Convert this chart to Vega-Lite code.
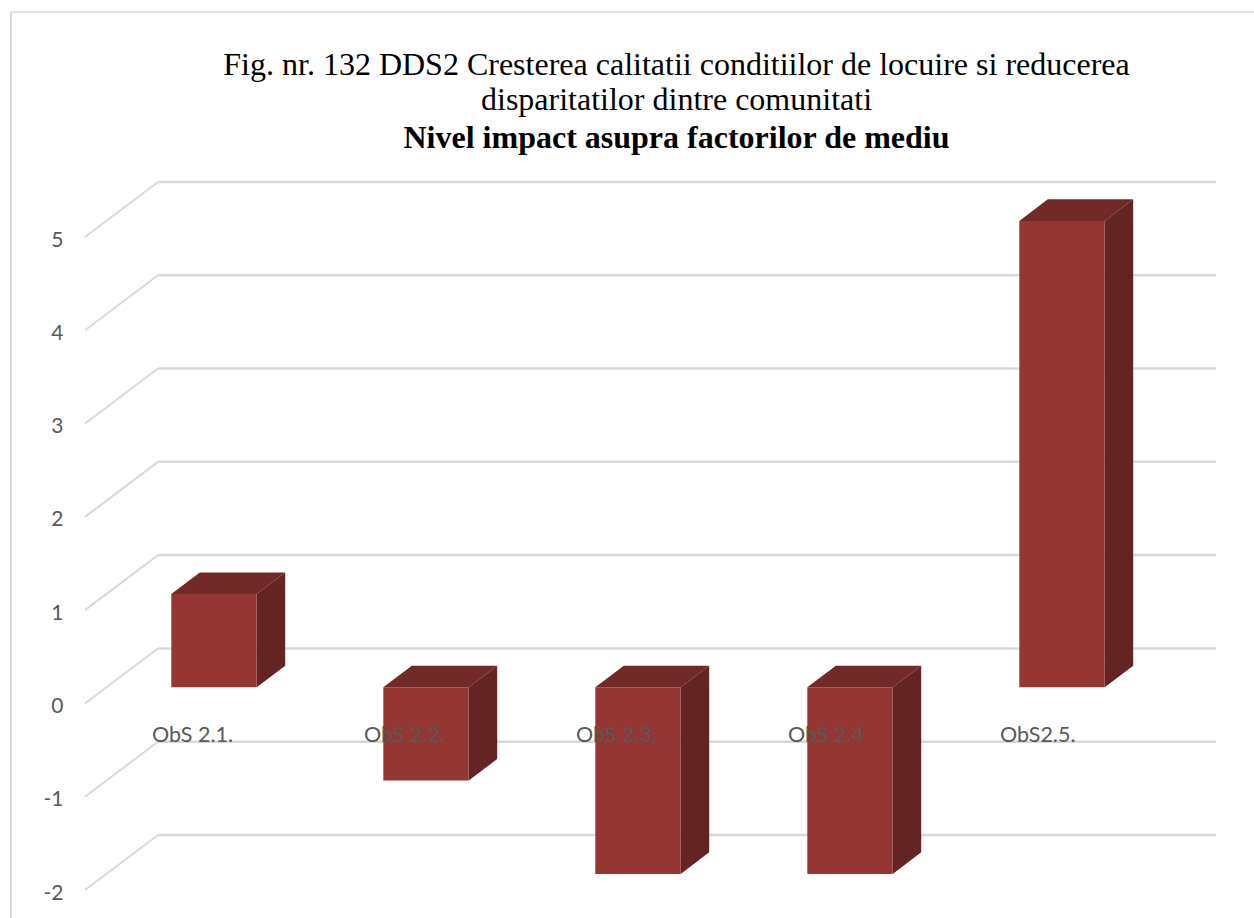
{
"$schema":"https://vega.github.io/schema/vega-lite/v6.json",
"autosize":{"type":"none"},
"padding":{"left":85,"top":182,"right":38,"bottom":28},
"width":1131,"height":708,
"background":"white",
"view":{"stroke":null},
"title":{"text":["Fig. nr. 132 DDS2 Cresterea calitatii conditiilor de locuire si reducerea","disparitatilor dintre comunitati"],"subtitle":"Nivel impact asupra factorilor de mediu","anchor":"middle","frame":"group","dx":26,"font":"Liberation Serif","fontSize":32,"fontWeight":"normal","lineHeight":35,"color":"#000000","subtitleFont":"Liberation Serif","subtitleFontSize":32,"subtitleFontWeight":"bold","subtitleColor":"#000000","subtitlePadding":6,"offset":-144},
"datasets":{
"bars":[{"category":"ObS 2.1.","index":1,"value":1},{"category":"ObS 2.2.","index":2,"value":-1},{"category":"ObS 2.3.","index":3,"value":-2},{"category":"ObS 2.4","index":4,"value":-2},{"category":"ObS2.5.","index":5,"value":5}],
"ticks":[{"tick":-2},{"tick":-1},{"tick":0},{"tick":1},{"tick":2},{"tick":3},{"tick":4},{"tick":5}],
"frame":[{"side":"left"},{"side":"top"}]
},
"layer":[
{"data":{"name":"frame"},"transform":[{"filter":"datum.side==='left'"}],"mark":{"type":"rule","color":"#d9d9d9","strokeWidth":2},
 "encoding":{"x":{"datum":0.0425,"type":"quantitative","scale":{"domain":[0.3915,5.7264],"nice":false,"zero":false},"axis":null},"y":{"datum":7.412,"type":"quantitative","scale":{"domain":[-2,5.59],"nice":false,"zero":false}},"y2":{"datum":-2.3}}},
{"data":{"name":"frame"},"transform":[{"filter":"datum.side==='top'"}],"mark":{"type":"rule","color":"#d9d9d9","strokeWidth":1.5},
 "encoding":{"x":{"datum":0.0425,"type":"quantitative"},"x2":{"datum":5.9057},"y":{"datum":7.412,"type":"quantitative"}}},
{"data":{"name":"ticks"},"transform":[{"calculate":"datum.tick+0.59","as":"wall"}],"mark":{"type":"rule","color":"#d9d9d9","strokeWidth":2.5},
 "encoding":{"x":{"datum":0.7358,"type":"quantitative"},"x2":{"datum":5.7264},"y":{"field":"wall","type":"quantitative"}}},
{"data":{"name":"ticks"},"transform":[{"calculate":"datum.tick+0.59","as":"wall"}],"mark":{"type":"rule","color":"#d9d9d9","strokeWidth":2},
 "encoding":{"x":{"datum":0.3915,"type":"quantitative"},"x2":{"datum":0.7358},"y":{"field":"tick","type":"quantitative","axis":{"title":null,"values":[-2,-1,0,1,2,3,4,5],"domain":false,"ticks":false,"grid":false,"labelPadding":22,"labelOffset":3,"labelFont":"Lato","labelFontSize":21,"labelColor":"#595959","labelExpr":"''+datum.value"}},"y2":{"field":"wall"}}},
{"data":{"name":"bars"},"transform":[{"calculate":"[0,1]","as":"t"},{"flatten":["t"]},{"calculate":"datum.index+0.2014+datum.t*0.1344","as":"px"},{"calculate":"datum.value+0.1726+datum.t*0.2315","as":"py"},{"calculate":"0.1726+datum.t*0.2315","as":"py2"}],
 "mark":{"type":"area","color":"#632423","orient":"vertical","interpolate":"linear"},
 "encoding":{"x":{"field":"px","type":"quantitative"},"y":{"field":"py","type":"quantitative"},"y2":{"field":"py2"},"detail":{"field":"category"}}},
{"data":{"name":"bars"},"transform":[{"calculate":"[0,1,2,3]","as":"t"},{"flatten":["t"]},{"calculate":"datum.index-0.2014+(datum.t==1?0.1344:datum.t==2?0.4028:datum.t==3?0.5372:0)","as":"px"},{"calculate":"max(datum.value,0)+0.1726","as":"front"},{"calculate":"datum.front+(datum.t==0?0:0.2315)","as":"py"},{"calculate":"datum.front+(datum.t==3?0.2315:0)","as":"py2"}],
 "mark":{"type":"area","color":"#722a28","orient":"vertical","interpolate":"linear"},
 "encoding":{"x":{"field":"px","type":"quantitative"},"y":{"field":"py","type":"quantitative"},"y2":{"field":"py2"},"detail":{"field":"category"}}},
{"data":{"name":"bars"},"transform":[{"calculate":"datum.index-0.2014","as":"x0"},{"calculate":"datum.index+0.2014","as":"x1"},{"calculate":"datum.value+0.1726","as":"y0"},{"calculate":"0.1726","as":"y1"}],
 "mark":{"type":"rect","color":"#943634"},
 "encoding":{"x":{"field":"x0","type":"quantitative"},"x2":{"field":"x1"},"y":{"field":"y0","type":"quantitative"},"y2":{"field":"y1"}}},
{"data":{"name":"bars"},"transform":[{"calculate":"datum.index-0.2925","as":"lx"},{"calculate":"-0.345","as":"ly"}],
 "mark":{"type":"text","font":"Lato","fontSize":21.5,"color":"#595959","align":"left","baseline":"middle"},
 "encoding":{"x":{"field":"lx","type":"quantitative"},"y":{"field":"ly","type":"quantitative"},"text":{"field":"category"}}}
]
}
